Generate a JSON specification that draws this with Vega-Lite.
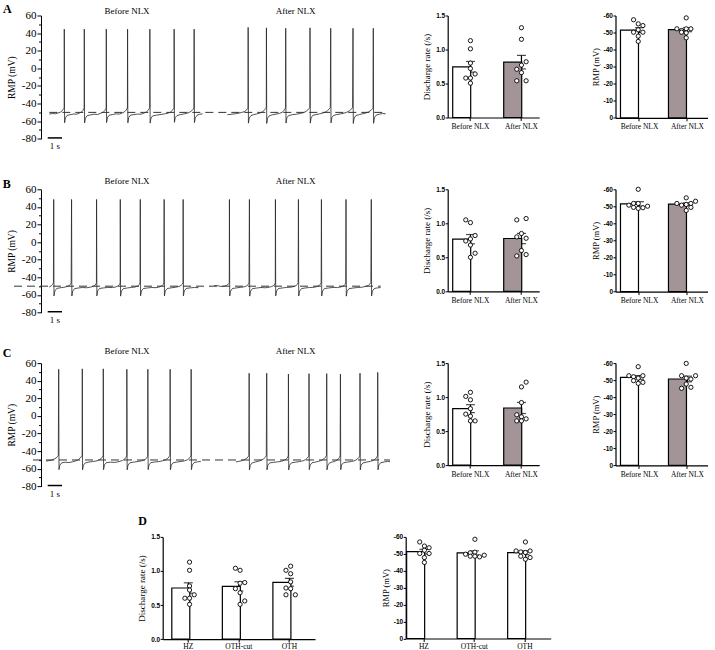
{
  "$schema": "https://vega.github.io/schema/vega-lite/v6.json",
  "background": "white",
  "padding": {"left": 2, "top": 2.5, "right": 2, "bottom": 2},
  "config": {
    "view": {"stroke": null},
    "font": "Liberation Serif",
    "axis": {"domainColor": "black", "tickColor": "black", "labelColor": "black", "titleColor": "black", "grid": false, "titleFontWeight": "normal", "tickWidth": 1}
  },
  "datasets": {
    "traceA": [
      {"seg":"b","t":0.58,"mv":-51.9},{"seg":"b","t":0.8,"mv":-51.3},{"seg":"b","t":1.0,"mv":-51.6},{"seg":"b","t":1.2,"mv":-50.6},{"seg":"b","t":1.37,"mv":-49.6},{"seg":"b","t":1.5,"mv":-47.9},{"seg":"b","t":1.59,"mv":-45.8},{"seg":"b","t":1.62,"mv":-44.2},{"seg":"b","t":1.63,"mv":44.5},{"seg":"b","t":1.65,"mv":-61.8},{"seg":"b","t":1.71,"mv":-56.2},{"seg":"b","t":1.83,"mv":-53.4},{"seg":"b","t":2.05,"mv":-52.6},{"seg":"b","t":2.3,"mv":-51.8},{"seg":"b","t":2.5,"mv":-52.1},{"seg":"b","t":2.7,"mv":-50.7},{"seg":"b","t":2.85,"mv":-49.4},{"seg":"b","t":2.95,"mv":-47.6},{"seg":"b","t":3.0,"mv":-45.5},{"seg":"b","t":3.02,"mv":-44.2},{"seg":"b","t":3.03,"mv":44.5},{"seg":"b","t":3.05,"mv":-62},{"seg":"b","t":3.11,"mv":-56.5},{"seg":"b","t":3.23,"mv":-53.8},{"seg":"b","t":3.45,"mv":-52.9},{"seg":"b","t":3.7,"mv":-52.1},{"seg":"b","t":3.95,"mv":-52.4},{"seg":"b","t":4.15,"mv":-51.2},{"seg":"b","t":4.35,"mv":-49.9},{"seg":"b","t":4.47,"mv":-47.9},{"seg":"b","t":4.54,"mv":-45.6},{"seg":"b","t":4.56,"mv":-44.2},{"seg":"b","t":4.57,"mv":44.5},{"seg":"b","t":4.59,"mv":-61.6},{"seg":"b","t":4.65,"mv":-56},{"seg":"b","t":4.77,"mv":-53.3},{"seg":"b","t":5.0,"mv":-52.4},{"seg":"b","t":5.25,"mv":-51.7},{"seg":"b","t":5.5,"mv":-51.9},{"seg":"b","t":5.7,"mv":-50.6},{"seg":"b","t":5.85,"mv":-49.3},{"seg":"b","t":5.96,"mv":-47.4},{"seg":"b","t":6.03,"mv":-45.3},{"seg":"b","t":6.05,"mv":-44},{"seg":"b","t":6.06,"mv":44.5},{"seg":"b","t":6.08,"mv":-61.9},{"seg":"b","t":6.14,"mv":-55.8},{"seg":"b","t":6.26,"mv":-53.2},{"seg":"b","t":6.5,"mv":-52.5},{"seg":"b","t":6.75,"mv":-51.9},{"seg":"b","t":7.0,"mv":-52.1},{"seg":"b","t":7.2,"mv":-50.8},{"seg":"b","t":7.38,"mv":-49.5},{"seg":"b","t":7.5,"mv":-47.7},{"seg":"b","t":7.58,"mv":-45.6},{"seg":"b","t":7.61,"mv":-44.2},{"seg":"b","t":7.62,"mv":44.5},{"seg":"b","t":7.64,"mv":-62.2},{"seg":"b","t":7.7,"mv":-56.4},{"seg":"b","t":7.82,"mv":-54},{"seg":"b","t":8.1,"mv":-53.1},{"seg":"b","t":8.4,"mv":-52.4},{"seg":"b","t":8.7,"mv":-51.5},{"seg":"b","t":8.9,"mv":-50.9},{"seg":"b","t":9.08,"mv":-49.5},{"seg":"b","t":9.2,"mv":-47.6},{"seg":"b","t":9.28,"mv":-45.5},{"seg":"b","t":9.31,"mv":-44.2},{"seg":"b","t":9.32,"mv":44.5},{"seg":"b","t":9.34,"mv":-61.3},{"seg":"b","t":9.4,"mv":-55.7},{"seg":"b","t":9.52,"mv":-53.6},{"seg":"b","t":9.75,"mv":-52.5},{"seg":"b","t":10.0,"mv":-51.8},{"seg":"b","t":10.2,"mv":-51.1},{"seg":"b","t":10.4,"mv":-49.9},{"seg":"b","t":10.55,"mv":-48.2},{"seg":"b","t":10.65,"mv":-46.4},{"seg":"b","t":10.7,"mv":-44.6},{"seg":"b","t":10.72,"mv":44.5},{"seg":"b","t":10.74,"mv":-61.6},{"seg":"b","t":10.8,"mv":-56.1},{"seg":"b","t":10.92,"mv":-53.3},{"seg":"b","t":11.1,"mv":-52.2},{"seg":"b","t":11.31,"mv":-51.6},
      {"seg":"a","t":13.05,"mv":-52.6},{"seg":"a","t":13.3,"mv":-52.2},{"seg":"a","t":13.55,"mv":-51.7},{"seg":"a","t":13.8,"mv":-51},{"seg":"a","t":14.05,"mv":-50.1},{"seg":"a","t":14.25,"mv":-49},{"seg":"a","t":14.38,"mv":-47.5},{"seg":"a","t":14.46,"mv":-45.6},{"seg":"a","t":14.49,"mv":-44.2},{"seg":"a","t":14.5,"mv":46.5},{"seg":"a","t":14.52,"mv":-62.2},{"seg":"a","t":14.58,"mv":-56.3},{"seg":"a","t":14.7,"mv":-53.6},{"seg":"a","t":14.9,"mv":-52.5},{"seg":"a","t":15.1,"mv":-51.8},{"seg":"a","t":15.3,"mv":-50.9},{"seg":"a","t":15.48,"mv":-49.6},{"seg":"a","t":15.62,"mv":-47.8},{"seg":"a","t":15.72,"mv":-45.8},{"seg":"a","t":15.77,"mv":-44.2},{"seg":"a","t":15.78,"mv":46},{"seg":"a","t":15.8,"mv":-62.6},{"seg":"a","t":15.86,"mv":-56.6},{"seg":"a","t":15.98,"mv":-53.9},{"seg":"a","t":16.2,"mv":-52.7},{"seg":"a","t":16.45,"mv":-52},{"seg":"a","t":16.7,"mv":-51.1},{"seg":"a","t":16.88,"mv":-49.8},{"seg":"a","t":17.0,"mv":-48.2},{"seg":"a","t":17.09,"mv":-46},{"seg":"a","t":17.12,"mv":-44.3},{"seg":"a","t":17.13,"mv":45.5},{"seg":"a","t":17.15,"mv":-62.1},{"seg":"a","t":17.21,"mv":-56.2},{"seg":"a","t":17.33,"mv":-53.6},{"seg":"a","t":17.6,"mv":-52.6},{"seg":"a","t":17.9,"mv":-52},{"seg":"a","t":18.15,"mv":-51.3},{"seg":"a","t":18.38,"mv":-50.2},{"seg":"a","t":18.55,"mv":-48.9},{"seg":"a","t":18.68,"mv":-47.2},{"seg":"a","t":18.78,"mv":-45.4},{"seg":"a","t":18.82,"mv":-44.2},{"seg":"a","t":18.83,"mv":46},{"seg":"a","t":18.85,"mv":-62.2},{"seg":"a","t":18.91,"mv":-56.1},{"seg":"a","t":19.03,"mv":-53.3},{"seg":"a","t":19.25,"mv":-52.5},{"seg":"a","t":19.5,"mv":-51.7},{"seg":"a","t":19.72,"mv":-50.8},{"seg":"a","t":19.9,"mv":-49.6},{"seg":"a","t":20.05,"mv":-48.1},{"seg":"a","t":20.17,"mv":-46.3},{"seg":"a","t":20.25,"mv":-44.4},{"seg":"a","t":20.28,"mv":45.5},{"seg":"a","t":20.3,"mv":-62},{"seg":"a","t":20.36,"mv":-56},{"seg":"a","t":20.48,"mv":-53.5},{"seg":"a","t":20.7,"mv":-52.5},{"seg":"a","t":20.95,"mv":-51.8},{"seg":"a","t":21.2,"mv":-51},{"seg":"a","t":21.42,"mv":-49.7},{"seg":"a","t":21.6,"mv":-48.1},{"seg":"a","t":21.73,"mv":-46.3},{"seg":"a","t":21.81,"mv":-44.4},{"seg":"a","t":21.84,"mv":45.5},{"seg":"a","t":21.86,"mv":-62.6},{"seg":"a","t":21.92,"mv":-56.5},{"seg":"a","t":22.04,"mv":-53.7},{"seg":"a","t":22.28,"mv":-52.5},{"seg":"a","t":22.52,"mv":-51.6},{"seg":"a","t":22.75,"mv":-50.6},{"seg":"a","t":22.95,"mv":-49.3},{"seg":"a","t":23.1,"mv":-47.6},{"seg":"a","t":23.2,"mv":-45.8},{"seg":"a","t":23.24,"mv":-44.3},{"seg":"a","t":23.26,"mv":45.5},{"seg":"a","t":23.28,"mv":-62.4},{"seg":"a","t":23.34,"mv":-56.1},{"seg":"a","t":23.46,"mv":-53.2},{"seg":"a","t":23.7,"mv":-52},{"seg":"a","t":23.92,"mv":-51.3},{"seg":"a","t":24.13,"mv":-51.6}
    ],
    "traceB": [
      {"seg":"b","t":0.58,"mv":-50.8},{"seg":"b","t":0.72,"mv":-49.6},{"seg":"b","t":0.82,"mv":-48},{"seg":"b","t":0.87,"mv":-46},{"seg":"b","t":0.89,"mv":48.5},{"seg":"b","t":0.91,"mv":-61},{"seg":"b","t":0.97,"mv":-55.5},{"seg":"b","t":1.1,"mv":-52.6},{"seg":"b","t":1.35,"mv":-51.8},{"seg":"b","t":1.6,"mv":-51.3},{"seg":"b","t":1.8,"mv":-50.5},{"seg":"b","t":1.95,"mv":-49.6},{"seg":"b","t":2.05,"mv":-48.2},{"seg":"b","t":2.11,"mv":-46.2},{"seg":"b","t":2.14,"mv":48.5},{"seg":"b","t":2.16,"mv":-61.2},{"seg":"b","t":2.22,"mv":-55.6},{"seg":"b","t":2.35,"mv":-52.8},{"seg":"b","t":2.6,"mv":-52.1},{"seg":"b","t":2.9,"mv":-51.5},{"seg":"b","t":3.2,"mv":-51.8},{"seg":"b","t":3.45,"mv":-51.1},{"seg":"b","t":3.65,"mv":-50.3},{"seg":"b","t":3.78,"mv":-49.1},{"seg":"b","t":3.85,"mv":-47.3},{"seg":"b","t":3.88,"mv":-46},{"seg":"b","t":3.89,"mv":48.5},{"seg":"b","t":3.91,"mv":-61},{"seg":"b","t":3.97,"mv":-55.3},{"seg":"b","t":4.1,"mv":-52.6},{"seg":"b","t":4.4,"mv":-51.9},{"seg":"b","t":4.7,"mv":-51.4},{"seg":"b","t":5.0,"mv":-51.6},{"seg":"b","t":5.25,"mv":-50.8},{"seg":"b","t":5.4,"mv":-49.6},{"seg":"b","t":5.5,"mv":-48},{"seg":"b","t":5.54,"mv":-46.2},{"seg":"b","t":5.55,"mv":48.5},{"seg":"b","t":5.57,"mv":-61.3},{"seg":"b","t":5.63,"mv":-55.6},{"seg":"b","t":5.76,"mv":-52.8},{"seg":"b","t":6.05,"mv":-52},{"seg":"b","t":6.35,"mv":-51.4},{"seg":"b","t":6.6,"mv":-50.9},{"seg":"b","t":6.78,"mv":-49.8},{"seg":"b","t":6.88,"mv":-48.2},{"seg":"b","t":6.93,"mv":-46.3},{"seg":"b","t":6.95,"mv":48.5},{"seg":"b","t":6.97,"mv":-61},{"seg":"b","t":7.03,"mv":-55.4},{"seg":"b","t":7.16,"mv":-52.7},{"seg":"b","t":7.45,"mv":-52},{"seg":"b","t":7.75,"mv":-51.5},{"seg":"b","t":8.05,"mv":-51.7},{"seg":"b","t":8.3,"mv":-50.8},{"seg":"b","t":8.47,"mv":-49.6},{"seg":"b","t":8.56,"mv":-48},{"seg":"b","t":8.6,"mv":-46.2},{"seg":"b","t":8.62,"mv":48.5},{"seg":"b","t":8.64,"mv":-61.2},{"seg":"b","t":8.7,"mv":-55.5},{"seg":"b","t":8.83,"mv":-52.7},{"seg":"b","t":9.1,"mv":-51.9},{"seg":"b","t":9.4,"mv":-51.3},{"seg":"b","t":9.65,"mv":-50.4},{"seg":"b","t":9.8,"mv":-49.2},{"seg":"b","t":9.9,"mv":-47.6},{"seg":"b","t":9.94,"mv":-46.1},{"seg":"b","t":9.95,"mv":48.5},{"seg":"b","t":9.97,"mv":-61},{"seg":"b","t":10.03,"mv":-55.4},{"seg":"b","t":10.16,"mv":-52.6},{"seg":"b","t":10.45,"mv":-51.9},{"seg":"b","t":10.75,"mv":-51.5},{"seg":"b","t":11.03,"mv":-51.7},
      {"seg":"a","t":12.12,"mv":-49.5},{"seg":"a","t":12.3,"mv":-49.2},{"seg":"a","t":12.5,"mv":-50},{"seg":"a","t":12.7,"mv":-50.3},{"seg":"a","t":12.9,"mv":-49.8},{"seg":"a","t":13.05,"mv":-48.6},{"seg":"a","t":13.14,"mv":-47},{"seg":"a","t":13.18,"mv":-45.8},{"seg":"a","t":13.19,"mv":48.5},{"seg":"a","t":13.21,"mv":-61.2},{"seg":"a","t":13.27,"mv":-55.6},{"seg":"a","t":13.4,"mv":-52.7},{"seg":"a","t":13.65,"mv":-52},{"seg":"a","t":13.95,"mv":-51.4},{"seg":"a","t":14.2,"mv":-50.8},{"seg":"a","t":14.38,"mv":-49.8},{"seg":"a","t":14.5,"mv":-48.3},{"seg":"a","t":14.56,"mv":-46.3},{"seg":"a","t":14.59,"mv":48.5},{"seg":"a","t":14.61,"mv":-61.3},{"seg":"a","t":14.67,"mv":-55.7},{"seg":"a","t":14.8,"mv":-52.8},{"seg":"a","t":15.1,"mv":-52.1},{"seg":"a","t":15.4,"mv":-51.5},{"seg":"a","t":15.7,"mv":-51.8},{"seg":"a","t":15.95,"mv":-51.2},{"seg":"a","t":16.15,"mv":-50.4},{"seg":"a","t":16.3,"mv":-49.2},{"seg":"a","t":16.37,"mv":-47.5},{"seg":"a","t":16.4,"mv":-46},{"seg":"a","t":16.41,"mv":48.5},{"seg":"a","t":16.43,"mv":-61},{"seg":"a","t":16.49,"mv":-55.4},{"seg":"a","t":16.62,"mv":-52.7},{"seg":"a","t":16.9,"mv":-52},{"seg":"a","t":17.2,"mv":-51.4},{"seg":"a","t":17.5,"mv":-51.1},{"seg":"a","t":17.7,"mv":-50.4},{"seg":"a","t":17.85,"mv":-49.4},{"seg":"a","t":17.95,"mv":-47.8},{"seg":"a","t":18.0,"mv":-46.2},{"seg":"a","t":18.02,"mv":48.5},{"seg":"a","t":18.04,"mv":-61.2},{"seg":"a","t":18.1,"mv":-55.6},{"seg":"a","t":18.23,"mv":-52.8},{"seg":"a","t":18.5,"mv":-52},{"seg":"a","t":18.8,"mv":-51.5},{"seg":"a","t":19.1,"mv":-51.3},{"seg":"a","t":19.3,"mv":-50.5},{"seg":"a","t":19.47,"mv":-49.3},{"seg":"a","t":19.56,"mv":-47.7},{"seg":"a","t":19.61,"mv":-46.1},{"seg":"a","t":19.63,"mv":48.5},{"seg":"a","t":19.65,"mv":-61.1},{"seg":"a","t":19.71,"mv":-55.5},{"seg":"a","t":19.84,"mv":-52.7},{"seg":"a","t":20.15,"mv":-52},{"seg":"a","t":20.45,"mv":-51.4},{"seg":"a","t":20.75,"mv":-51.6},{"seg":"a","t":21.0,"mv":-50.8},{"seg":"a","t":21.18,"mv":-49.7},{"seg":"a","t":21.28,"mv":-48},{"seg":"a","t":21.33,"mv":-46.2},{"seg":"a","t":21.35,"mv":48.5},{"seg":"a","t":21.37,"mv":-61.3},{"seg":"a","t":21.43,"mv":-55.6},{"seg":"a","t":21.56,"mv":-52.8},{"seg":"a","t":21.85,"mv":-52.1},{"seg":"a","t":22.15,"mv":-51.5},{"seg":"a","t":22.45,"mv":-51.2},{"seg":"a","t":22.7,"mv":-50.4},{"seg":"a","t":22.9,"mv":-49.3},{"seg":"a","t":23.02,"mv":-47.6},{"seg":"a","t":23.09,"mv":-46},{"seg":"a","t":23.12,"mv":48.5},{"seg":"a","t":23.14,"mv":-61.1},{"seg":"a","t":23.2,"mv":-55.5},{"seg":"a","t":23.33,"mv":-52.7},{"seg":"a","t":23.55,"mv":-51.9},{"seg":"a","t":23.78,"mv":-51.6}
    ],
    "traceC": [
      {"seg":"b","t":0.35,"mv":-51.2},{"seg":"b","t":0.55,"mv":-50.8},{"seg":"b","t":0.75,"mv":-50.1},{"seg":"b","t":0.92,"mv":-49},{"seg":"b","t":1.05,"mv":-47.8},{"seg":"b","t":1.15,"mv":-46.3},{"seg":"b","t":1.21,"mv":-44.8},{"seg":"b","t":1.24,"mv":53},{"seg":"b","t":1.26,"mv":-61},{"seg":"b","t":1.32,"mv":-55.8},{"seg":"b","t":1.45,"mv":-53.2},{"seg":"b","t":1.7,"mv":-52.6},{"seg":"b","t":1.95,"mv":-52.9},{"seg":"b","t":2.2,"mv":-52.1},{"seg":"b","t":2.45,"mv":-51},{"seg":"b","t":2.62,"mv":-49.6},{"seg":"b","t":2.75,"mv":-47.8},{"seg":"b","t":2.84,"mv":-45.8},{"seg":"b","t":2.88,"mv":-44.6},{"seg":"b","t":2.89,"mv":53.5},{"seg":"b","t":2.91,"mv":-61.2},{"seg":"b","t":2.97,"mv":-55.9},{"seg":"b","t":3.1,"mv":-53.3},{"seg":"b","t":3.35,"mv":-52.4},{"seg":"b","t":3.6,"mv":-51.8},{"seg":"b","t":3.85,"mv":-51.2},{"seg":"b","t":4.05,"mv":-50.2},{"seg":"b","t":4.2,"mv":-48.6},{"seg":"b","t":4.3,"mv":-46.6},{"seg":"b","t":4.35,"mv":-44.8},{"seg":"b","t":4.36,"mv":53.5},{"seg":"b","t":4.38,"mv":-61},{"seg":"b","t":4.44,"mv":-55.6},{"seg":"b","t":4.57,"mv":-53.1},{"seg":"b","t":4.85,"mv":-52.5},{"seg":"b","t":5.15,"mv":-52.8},{"seg":"b","t":5.45,"mv":-51.9},{"seg":"b","t":5.7,"mv":-50.6},{"seg":"b","t":5.85,"mv":-49.1},{"seg":"b","t":5.95,"mv":-47},{"seg":"b","t":6.0,"mv":-44.8},{"seg":"b","t":6.01,"mv":53},{"seg":"b","t":6.03,"mv":-61.2},{"seg":"b","t":6.09,"mv":-55.8},{"seg":"b","t":6.22,"mv":-53.2},{"seg":"b","t":6.5,"mv":-52.4},{"seg":"b","t":6.8,"mv":-51.7},{"seg":"b","t":7.05,"mv":-51},{"seg":"b","t":7.25,"mv":-49.8},{"seg":"b","t":7.38,"mv":-48.1},{"seg":"b","t":7.45,"mv":-46.2},{"seg":"b","t":7.47,"mv":-44.8},{"seg":"b","t":7.48,"mv":53},{"seg":"b","t":7.5,"mv":-61},{"seg":"b","t":7.56,"mv":-55.6},{"seg":"b","t":7.69,"mv":-53},{"seg":"b","t":7.95,"mv":-52.3},{"seg":"b","t":8.25,"mv":-51.8},{"seg":"b","t":8.5,"mv":-51},{"seg":"b","t":8.7,"mv":-49.9},{"seg":"b","t":8.87,"mv":-48.2},{"seg":"b","t":8.97,"mv":-46.3},{"seg":"b","t":9.02,"mv":-44.8},{"seg":"b","t":9.04,"mv":53},{"seg":"b","t":9.06,"mv":-61.2},{"seg":"b","t":9.12,"mv":-55.8},{"seg":"b","t":9.25,"mv":-53.2},{"seg":"b","t":9.5,"mv":-52.4},{"seg":"b","t":9.8,"mv":-51.7},{"seg":"b","t":10.05,"mv":-51},{"seg":"b","t":10.25,"mv":-49.8},{"seg":"b","t":10.38,"mv":-48.1},{"seg":"b","t":10.46,"mv":-46.2},{"seg":"b","t":10.5,"mv":-44.8},{"seg":"b","t":10.51,"mv":53},{"seg":"b","t":10.53,"mv":-61},{"seg":"b","t":10.59,"mv":-55.6},{"seg":"b","t":10.72,"mv":-53},{"seg":"b","t":10.95,"mv":-52.1},{"seg":"b","t":11.19,"mv":-51.6},
      {"seg":"a","t":13.64,"mv":-52.2},{"seg":"a","t":13.85,"mv":-51.6},{"seg":"a","t":14.05,"mv":-50.8},{"seg":"a","t":14.25,"mv":-49.6},{"seg":"a","t":14.4,"mv":-48.2},{"seg":"a","t":14.5,"mv":-46.4},{"seg":"a","t":14.55,"mv":-44.9},{"seg":"a","t":14.57,"mv":48.5},{"seg":"a","t":14.59,"mv":-61.3},{"seg":"a","t":14.65,"mv":-55.9},{"seg":"a","t":14.78,"mv":-53.3},{"seg":"a","t":15.0,"mv":-52.3},{"seg":"a","t":15.2,"mv":-51.5},{"seg":"a","t":15.42,"mv":-50.3},{"seg":"a","t":15.58,"mv":-48.8},{"seg":"a","t":15.7,"mv":-46.9},{"seg":"a","t":15.77,"mv":-45.2},{"seg":"a","t":15.8,"mv":48.5},{"seg":"a","t":15.82,"mv":-61.2},{"seg":"a","t":15.88,"mv":-55.8},{"seg":"a","t":16.01,"mv":-53.3},{"seg":"a","t":16.3,"mv":-52.6},{"seg":"a","t":16.6,"mv":-52.1},{"seg":"a","t":16.85,"mv":-51.4},{"seg":"a","t":17.05,"mv":-50.2},{"seg":"a","t":17.2,"mv":-48.5},{"seg":"a","t":17.28,"mv":-46.6},{"seg":"a","t":17.31,"mv":-45},{"seg":"a","t":17.32,"mv":47.5},{"seg":"a","t":17.34,"mv":-61.3},{"seg":"a","t":17.4,"mv":-55.9},{"seg":"a","t":17.53,"mv":-53.3},{"seg":"a","t":17.8,"mv":-52.5},{"seg":"a","t":18.1,"mv":-51.8},{"seg":"a","t":18.35,"mv":-50.9},{"seg":"a","t":18.52,"mv":-49.6},{"seg":"a","t":18.64,"mv":-47.9},{"seg":"a","t":18.72,"mv":-46.1},{"seg":"a","t":18.75,"mv":-45},{"seg":"a","t":18.76,"mv":48},{"seg":"a","t":18.78,"mv":-61},{"seg":"a","t":18.84,"mv":-55.7},{"seg":"a","t":18.97,"mv":-53.2},{"seg":"a","t":19.2,"mv":-52.4},{"seg":"a","t":19.45,"mv":-51.4},{"seg":"a","t":19.65,"mv":-50.3},{"seg":"a","t":19.8,"mv":-48.8},{"seg":"a","t":19.92,"mv":-46.8},{"seg":"a","t":19.98,"mv":-45.1},{"seg":"a","t":20.0,"mv":48},{"seg":"a","t":20.02,"mv":-61.2},{"seg":"a","t":20.08,"mv":-55.8},{"seg":"a","t":20.21,"mv":-53.2},{"seg":"a","t":20.42,"mv":-52.2},{"seg":"a","t":20.62,"mv":-51.1},{"seg":"a","t":20.78,"mv":-49.5},{"seg":"a","t":20.88,"mv":-47.4},{"seg":"a","t":20.94,"mv":-45.3},{"seg":"a","t":20.96,"mv":47.5},{"seg":"a","t":20.98,"mv":-61.2},{"seg":"a","t":21.04,"mv":-55.7},{"seg":"a","t":21.17,"mv":-53.2},{"seg":"a","t":21.45,"mv":-52.4},{"seg":"a","t":21.75,"mv":-51.7},{"seg":"a","t":21.98,"mv":-50.6},{"seg":"a","t":22.14,"mv":-49.1},{"seg":"a","t":22.25,"mv":-47.2},{"seg":"a","t":22.31,"mv":-45.2},{"seg":"a","t":22.33,"mv":48.5},{"seg":"a","t":22.35,"mv":-61.3},{"seg":"a","t":22.41,"mv":-55.8},{"seg":"a","t":22.54,"mv":-53.3},{"seg":"a","t":22.8,"mv":-52.4},{"seg":"a","t":23.05,"mv":-51.6},{"seg":"a","t":23.28,"mv":-50.4},{"seg":"a","t":23.42,"mv":-48.8},{"seg":"a","t":23.51,"mv":-46.8},{"seg":"a","t":23.56,"mv":-45},{"seg":"a","t":23.57,"mv":49.5},{"seg":"a","t":23.59,"mv":-61.2},{"seg":"a","t":23.65,"mv":-55.7},{"seg":"a","t":23.78,"mv":-53.1},{"seg":"a","t":24.05,"mv":-52.2},{"seg":"a","t":24.25,"mv":-51.6},{"seg":"a","t":24.43,"mv":-51.9}
    ],
    "rateA": [
      {"group":"Before NLX","value":1.13,"lane":0},{"group":"Before NLX","value":1.01,"lane":0},{"group":"Before NLX","value":0.8,"lane":0},{"group":"Before NLX","value":0.72,"lane":0},{"group":"Before NLX","value":0.64,"lane":1},{"group":"Before NLX","value":0.58,"lane":-1},{"group":"Before NLX","value":0.58,"lane":0},{"group":"Before NLX","value":0.505,"lane":0},
      {"group":"After NLX","value":1.32,"lane":0},{"group":"After NLX","value":1.15,"lane":0},{"group":"After NLX","value":0.82,"lane":1},{"group":"After NLX","value":0.77,"lane":0},{"group":"After NLX","value":0.71,"lane":-1},{"group":"After NLX","value":0.66,"lane":0},{"group":"After NLX","value":0.54,"lane":-1},{"group":"After NLX","value":0.54,"lane":1}
    ],
    "rmpA": [
      {"group":"Before NLX","value":-57.5,"lane":-1},{"group":"Before NLX","value":-55.1,"lane":0},{"group":"Before NLX","value":-54.1,"lane":1},{"group":"Before NLX","value":-51.6,"lane":0},{"group":"Before NLX","value":-50.2,"lane":-1},{"group":"Before NLX","value":-50.2,"lane":1},{"group":"Before NLX","value":-47.9,"lane":0},{"group":"Before NLX","value":-44.8,"lane":0},
      {"group":"After NLX","value":-58.6,"lane":0},{"group":"After NLX","value":-52.2,"lane":-2},{"group":"After NLX","value":-51.2,"lane":-1},{"group":"After NLX","value":-52.2,"lane":0},{"group":"After NLX","value":-52.2,"lane":1},{"group":"After NLX","value":-50.2,"lane":-1},{"group":"After NLX","value":-49.8,"lane":0},{"group":"After NLX","value":-46.9,"lane":0}
    ],
    "rateB": [
      {"group":"Before NLX","value":1.05,"lane":-1},{"group":"Before NLX","value":1.01,"lane":0},{"group":"Before NLX","value":0.82,"lane":1},{"group":"Before NLX","value":0.77,"lane":0},{"group":"Before NLX","value":0.74,"lane":-1},{"group":"Before NLX","value":0.68,"lane":0},{"group":"Before NLX","value":0.56,"lane":1},{"group":"Before NLX","value":0.5,"lane":0},
      {"group":"After NLX","value":1.05,"lane":-1},{"group":"After NLX","value":1.07,"lane":1},{"group":"After NLX","value":0.85,"lane":0},{"group":"After NLX","value":0.8,"lane":-1},{"group":"After NLX","value":0.78,"lane":1},{"group":"After NLX","value":0.6,"lane":0},{"group":"After NLX","value":0.52,"lane":-1},{"group":"After NLX","value":0.54,"lane":1}
    ],
    "rmpB": [
      {"group":"Before NLX","value":-60,"lane":0},{"group":"Before NLX","value":-50.7,"lane":-2},{"group":"Before NLX","value":-51.7,"lane":-1},{"group":"Before NLX","value":-51.7,"lane":0},{"group":"Before NLX","value":-49.4,"lane":-1},{"group":"Before NLX","value":-48.8,"lane":0},{"group":"Before NLX","value":-49.2,"lane":1},{"group":"Before NLX","value":-50.1,"lane":2},
      {"group":"After NLX","value":-55,"lane":0},{"group":"After NLX","value":-53,"lane":2},{"group":"After NLX","value":-51.7,"lane":-2},{"group":"After NLX","value":-50.7,"lane":-1},{"group":"After NLX","value":-51.1,"lane":0},{"group":"After NLX","value":-51.7,"lane":1},{"group":"After NLX","value":-47.6,"lane":0},{"group":"After NLX","value":-49.4,"lane":1}
    ],
    "rateC": [
      {"group":"Before NLX","value":1.07,"lane":0},{"group":"Before NLX","value":1.01,"lane":-1},{"group":"Before NLX","value":0.96,"lane":0},{"group":"Before NLX","value":0.83,"lane":0},{"group":"Before NLX","value":0.75,"lane":-1},{"group":"Before NLX","value":0.72,"lane":0},{"group":"Before NLX","value":0.65,"lane":0},{"group":"Before NLX","value":0.65,"lane":1},
      {"group":"After NLX","value":1.22,"lane":1},{"group":"After NLX","value":1.15,"lane":0},{"group":"After NLX","value":0.92,"lane":0},{"group":"After NLX","value":0.74,"lane":-1},{"group":"After NLX","value":0.71,"lane":0},{"group":"After NLX","value":0.68,"lane":1},{"group":"After NLX","value":0.65,"lane":-1},{"group":"After NLX","value":0.65,"lane":0}
    ],
    "rmpC": [
      {"group":"Before NLX","value":-57.9,"lane":0},{"group":"Before NLX","value":-52.6,"lane":-2},{"group":"Before NLX","value":-52,"lane":-1},{"group":"Before NLX","value":-51.2,"lane":0},{"group":"Before NLX","value":-52.6,"lane":1},{"group":"Before NLX","value":-49.7,"lane":-1},{"group":"Before NLX","value":-48.7,"lane":1},{"group":"Before NLX","value":-48.1,"lane":0},
      {"group":"After NLX","value":-59.8,"lane":0},{"group":"After NLX","value":-52.6,"lane":-1},{"group":"After NLX","value":-51.2,"lane":0},{"group":"After NLX","value":-50.6,"lane":1},{"group":"After NLX","value":-52.6,"lane":2},{"group":"After NLX","value":-47.7,"lane":0},{"group":"After NLX","value":-45.2,"lane":-1},{"group":"After NLX","value":-45.8,"lane":1}
    ],
    "rateD": [
      {"group":"HZ","value":1.13,"lane":0},{"group":"HZ","value":1.01,"lane":0},{"group":"HZ","value":0.78,"lane":0},{"group":"HZ","value":0.72,"lane":0},{"group":"HZ","value":0.6,"lane":-1},{"group":"HZ","value":0.6,"lane":0},{"group":"HZ","value":0.65,"lane":1},{"group":"HZ","value":0.51,"lane":0},
      {"group":"OTH-cut","value":1.04,"lane":-1},{"group":"OTH-cut","value":1.01,"lane":0},{"group":"OTH-cut","value":0.82,"lane":0},{"group":"OTH-cut","value":0.83,"lane":1},{"group":"OTH-cut","value":0.74,"lane":-1},{"group":"OTH-cut","value":0.68,"lane":0},{"group":"OTH-cut","value":0.56,"lane":1},{"group":"OTH-cut","value":0.51,"lane":0},
      {"group":"OTH","value":1.07,"lane":0},{"group":"OTH","value":1.01,"lane":-1},{"group":"OTH","value":0.96,"lane":0},{"group":"OTH","value":0.84,"lane":0},{"group":"OTH","value":0.75,"lane":-1},{"group":"OTH","value":0.74,"lane":0},{"group":"OTH","value":0.65,"lane":-1},{"group":"OTH","value":0.65,"lane":1}
    ],
    "rmpD": [
      {"group":"HZ","value":-57,"lane":-1},{"group":"HZ","value":-54.6,"lane":0},{"group":"HZ","value":-53.6,"lane":1},{"group":"HZ","value":-52.1,"lane":0},{"group":"HZ","value":-50.2,"lane":-1},{"group":"HZ","value":-50.2,"lane":1},{"group":"HZ","value":-47.8,"lane":0},{"group":"HZ","value":-44.9,"lane":0},
      {"group":"OTH-cut","value":-58.6,"lane":0},{"group":"OTH-cut","value":-49.8,"lane":-2},{"group":"OTH-cut","value":-50.6,"lane":-1},{"group":"OTH-cut","value":-51,"lane":0},{"group":"OTH-cut","value":-48.6,"lane":-1},{"group":"OTH-cut","value":-48.6,"lane":0},{"group":"OTH-cut","value":-48.2,"lane":1},{"group":"OTH-cut","value":-49.2,"lane":2},
      {"group":"OTH","value":-57,"lane":0},{"group":"OTH","value":-51.7,"lane":-2},{"group":"OTH","value":-51.1,"lane":-1},{"group":"OTH","value":-50.8,"lane":0},{"group":"OTH","value":-51.7,"lane":1},{"group":"OTH","value":-48.6,"lane":-1},{"group":"OTH","value":-46.8,"lane":0},{"group":"OTH","value":-47.8,"lane":1}
    ]
  },
  "vconcat": [
    {
      "hconcat": [
        {
          "width": 350, "height": 123.3,
          "encoding": {
            "x": {"field": "t", "type": "quantitative", "scale": {"domain": [0, 24.5], "nice": false, "zero": false}, "axis": null},
            "y": {"field": "mv", "type": "quantitative", "scale": {"domain": [-80, 60], "nice": false, "zero": false},
                  "axis": {"title": "RMP (mV)", "values": [-80,-70,-60,-50,-40,-30,-20,-10,0,10,20,30,40,50,60], "labelExpr": "datum.value % 20 == 0 ? (datum.value < 0 ? '-' + abs(datum.value) : '' + datum.value) : ''", "labelFont": "Liberation Serif", "labelFontSize": 11, "labelPadding": 1, "labelOverlap": false, "labelFlush": false, "tickSize": {"condition": {"test": "datum.value % 20 != 0", "value": 2.5}, "value": 4}, "titleFont": "Liberation Serif", "titleFontSize": 9.5, "titlePadding": 5, "domainWidth": 1}}
          },
          "layer": [
            {"data": {"name": "traceA"}, "mark": {"type": "line", "color": "#262626", "strokeWidth": 0.8},
             "encoding": {"detail": {"field": "seg"}}},
            {"data": {"values": [{"t": 0.58, "t_end": 24.13, "mv": -50}]},
             "mark": {"type": "rule", "strokeDash": [8, 5], "color": "#333333", "strokeWidth": 1},
             "encoding": {"x2": {"field": "t_end"}}},
            {"data": {"values": [{"t": 0.47, "t_end": 1.47, "mv": -79}]}, "mark": {"type": "rule", "color": "black", "strokeWidth": 1.5},
             "encoding": {"x2": {"field": "t_end"}}},
            {"data": {"values": [{"t": 0.97, "mv": -88.5, "label": "1 s"}, {"t": 6.02, "mv": 65.3, "label": "Before NLX"}, {"t": 17.83, "mv": 65.3, "label": "After NLX"}]},
             "mark": {"type": "text", "font": "Liberation Serif", "fontSize": 9, "baseline": "middle", "color": "black"},
             "encoding": {"text": {"field": "label"}}},
            {"data": {"values": [{"t": -2.66, "mv": 63, "label": "A"}]},
             "mark": {"type": "text", "font": "Liberation Serif", "fontWeight": "bold", "fontSize": 12, "align": "left", "baseline": "alphabetic", "color": "black"},
             "encoding": {"text": {"field": "label"}}}
          ]
        },
        {
          "hconcat": [
            {
              "width": 91.5, "height": 102,
              "data": {"name": "rateA"},
              "encoding": {"x": {"field": "group", "type": "nominal", "sort": ["Before NLX", "After NLX"], "scale": {"paddingInner": 0.304, "paddingOuter": 0.049, "align": 1},
                                 "axis": {"title": null, "labelAngle": 0, "labelFont": "Liberation Serif", "labelFontSize": 7.5, "labelPadding": 2, "tickSize": 3, "domainWidth": 1.2}}},
              "layer": [
                {"mark": {"type": "errorbar", "extent": "stderr", "color": "black", "thickness": 1.2, "ticks": {"size": 9, "thickness": 1.2, "color": "black"}},
                 "encoding": {"y": {"field": "value", "type": "quantitative", "scale": {"domain": [0, 1.5], "nice": false},
                   "axis": {"title": "Discharge rate (/s)", "values": [0, 0.5, 1, 1.5], "format": ".1f", "labelFont": "Liberation Sans", "labelFontWeight": "bold", "labelFontSize": 6.5, "labelPadding": 0.5, "tickSize": 2.5, "labelOverlap": false, "labelFlush": false, "titleFont": "Liberation Serif", "titleFontSize": 9, "titlePadding": 4, "domainWidth": 1.2}}}},
                {"mark": {"type": "bar", "stroke": "black", "strokeWidth": 1.2},
                 "encoding": {"y": {"aggregate": "mean", "field": "value", "type": "quantitative",
                   "axis": {"title": "Discharge rate (/s)", "values": [0, 0.5, 1, 1.5], "format": ".1f", "labelFont": "Liberation Sans", "labelFontWeight": "bold", "labelFontSize": 6.5, "labelPadding": 0.5, "tickSize": 2.5, "labelOverlap": false, "labelFlush": false, "titleFont": "Liberation Serif", "titleFontSize": 9, "titlePadding": 4, "domainWidth": 1.2}},
                              "fill": {"field": "group", "type": "nominal", "scale": {"domain": ["Before NLX", "After NLX"], "range": ["#ffffff", "#a39597"]}, "legend": null}}},
                {"mark": {"type": "point", "shape": "circle", "filled": true, "fill": "white", "stroke": "black", "strokeWidth": 0.9, "size": 18, "opacity": 1},
                 "encoding": {"y": {"field": "value", "type": "quantitative",
                   "axis": {"title": "Discharge rate (/s)", "values": [0, 0.5, 1, 1.5], "format": ".1f", "labelFont": "Liberation Sans", "labelFontWeight": "bold", "labelFontSize": 6.5, "labelPadding": 0.5, "tickSize": 2.5, "labelOverlap": false, "labelFlush": false, "titleFont": "Liberation Serif", "titleFontSize": 9, "titlePadding": 4, "domainWidth": 1.2}},
                              "xOffset": {"field": "lane", "type": "quantitative", "scale": {"domain": [-3.5, 3.5]}}}}
              ]
            },
            {
              "width": 92, "height": 102.3,
              "data": {"name": "rmpA"},
              "encoding": {"x": {"field": "group", "type": "nominal", "sort": ["Before NLX", "After NLX"], "scale": {"paddingInner": 0.208, "paddingOuter": 0.0625, "align": 0.83},
                                 "axis": {"title": null, "labelAngle": 0, "labelFont": "Liberation Serif", "labelFontSize": 7.5, "labelPadding": 2, "tickSize": 3, "domainWidth": 1.2}}},
              "layer": [
                {"mark": {"type": "errorbar", "extent": "stderr", "color": "black", "thickness": 1.2, "ticks": {"size": 9, "thickness": 1.2, "color": "black"}},
                 "encoding": {"y": {"field": "value", "type": "quantitative", "scale": {"domain": [0, -60], "nice": false, "zero": false},
                   "axis": {"title": "RMP (mV)", "values": [-60, -50, -40, -30, -20, -10, 0], "labelExpr": "datum.value < 0 ? '-' + abs(datum.value) : '0'", "labelFont": "Liberation Sans", "labelFontWeight": "bold", "labelFontSize": 6.5, "labelPadding": 0.5, "tickSize": 2.5, "labelOverlap": false, "labelFlush": false, "titleFont": "Liberation Serif", "titleFontSize": 8.5, "titlePadding": 3, "domainWidth": 1.2}}}},
                {"mark": {"type": "bar", "stroke": "black", "strokeWidth": 1.2},
                 "encoding": {"y": {"aggregate": "mean", "field": "value", "type": "quantitative",
                   "axis": {"title": "RMP (mV)", "values": [-60, -50, -40, -30, -20, -10, 0], "labelExpr": "datum.value < 0 ? '-' + abs(datum.value) : '0'", "labelFont": "Liberation Sans", "labelFontWeight": "bold", "labelFontSize": 6.5, "labelPadding": 0.5, "tickSize": 2.5, "labelOverlap": false, "labelFlush": false, "titleFont": "Liberation Serif", "titleFontSize": 8.5, "titlePadding": 3, "domainWidth": 1.2}},
                              "fill": {"field": "group", "type": "nominal", "scale": {"domain": ["Before NLX", "After NLX"], "range": ["#ffffff", "#a39597"]}, "legend": null}}},
                {"mark": {"type": "point", "shape": "circle", "filled": true, "fill": "white", "stroke": "black", "strokeWidth": 0.9, "size": 18, "opacity": 1},
                 "encoding": {"y": {"field": "value", "type": "quantitative",
                   "axis": {"title": "RMP (mV)", "values": [-60, -50, -40, -30, -20, -10, 0], "labelExpr": "datum.value < 0 ? '-' + abs(datum.value) : '0'", "labelFont": "Liberation Sans", "labelFontWeight": "bold", "labelFontSize": 6.5, "labelPadding": 0.5, "tickSize": 2.5, "labelOverlap": false, "labelFlush": false, "titleFont": "Liberation Serif", "titleFontSize": 8.5, "titlePadding": 3, "domainWidth": 1.2}},
                              "xOffset": {"field": "lane", "type": "quantitative", "scale": {"domain": [-3.8, 3.8]}}}}
              ]
            }
          ],
          "spacing": 75.8,
          "bounds": "flush"
        }
      ],
      "spacing": 56.7,
      "bounds": "flush"
    },
    {
      "hconcat": [
        {
          "width": 350, "height": 123.3,
          "encoding": {
            "x": {"field": "t", "type": "quantitative", "scale": {"domain": [0, 24.5], "nice": false, "zero": false}, "axis": null},
            "y": {"field": "mv", "type": "quantitative", "scale": {"domain": [-80, 60], "nice": false, "zero": false},
                  "axis": {"title": "RMP (mV)", "values": [-80,-70,-60,-50,-40,-30,-20,-10,0,10,20,30,40,50,60], "labelExpr": "datum.value % 20 == 0 ? (datum.value < 0 ? '-' + abs(datum.value) : '' + datum.value) : ''", "labelFont": "Liberation Serif", "labelFontSize": 11, "labelPadding": 1, "labelOverlap": false, "labelFlush": false, "tickSize": {"condition": {"test": "datum.value % 20 != 0", "value": 2.5}, "value": 4}, "titleFont": "Liberation Serif", "titleFontSize": 9.5, "titlePadding": 5, "domainWidth": 1}}
          },
          "layer": [
            {"data": {"name": "traceB"}, "mark": {"type": "line", "color": "#262626", "strokeWidth": 0.8},
             "encoding": {"detail": {"field": "seg"}}},
            {"data": {"values": [{"t": -1.89, "t_end": 23.78, "mv": -50}]},
             "mark": {"type": "rule", "strokeDash": [8, 5], "color": "#333333", "strokeWidth": 1},
             "encoding": {"x2": {"field": "t_end"}}},
            {"data": {"values": [{"t": 0.47, "t_end": 1.47, "mv": -79}]}, "mark": {"type": "rule", "color": "black", "strokeWidth": 1.5},
             "encoding": {"x2": {"field": "t_end"}}},
            {"data": {"values": [{"t": 0.97, "mv": -88.5, "label": "1 s"}, {"t": 6.02, "mv": 69.4, "label": "Before NLX"}, {"t": 17.83, "mv": 69.4, "label": "After NLX"}]},
             "mark": {"type": "text", "font": "Liberation Serif", "fontSize": 9, "baseline": "middle", "color": "black"},
             "encoding": {"text": {"field": "label"}}},
            {"data": {"values": [{"t": -2.68, "mv": 62, "label": "B"}]},
             "mark": {"type": "text", "font": "Liberation Serif", "fontWeight": "bold", "fontSize": 12, "align": "left", "baseline": "alphabetic", "color": "black"},
             "encoding": {"text": {"field": "label"}}}
          ]
        },
        {
          "hconcat": [
            {
              "width": 91.5, "height": 102,
              "data": {"name": "rateB"},
              "encoding": {"x": {"field": "group", "type": "nominal", "sort": ["Before NLX", "After NLX"], "scale": {"paddingInner": 0.304, "paddingOuter": 0.049, "align": 1},
                                 "axis": {"title": null, "labelAngle": 0, "labelFont": "Liberation Serif", "labelFontSize": 7.5, "labelPadding": 2, "tickSize": 3, "domainWidth": 1.2}}},
              "layer": [
                {"mark": {"type": "errorbar", "extent": "stderr", "color": "black", "thickness": 1.2, "ticks": {"size": 9, "thickness": 1.2, "color": "black"}},
                 "encoding": {"y": {"field": "value", "type": "quantitative", "scale": {"domain": [0, 1.5], "nice": false},
                   "axis": {"title": "Discharge rate (/s)", "values": [0, 0.5, 1, 1.5], "format": ".1f", "labelFont": "Liberation Sans", "labelFontWeight": "bold", "labelFontSize": 6.5, "labelPadding": 0.5, "tickSize": 2.5, "labelOverlap": false, "labelFlush": false, "titleFont": "Liberation Serif", "titleFontSize": 9, "titlePadding": 4, "domainWidth": 1.2}}}},
                {"mark": {"type": "bar", "stroke": "black", "strokeWidth": 1.2},
                 "encoding": {"y": {"aggregate": "mean", "field": "value", "type": "quantitative",
                   "axis": {"title": "Discharge rate (/s)", "values": [0, 0.5, 1, 1.5], "format": ".1f", "labelFont": "Liberation Sans", "labelFontWeight": "bold", "labelFontSize": 6.5, "labelPadding": 0.5, "tickSize": 2.5, "labelOverlap": false, "labelFlush": false, "titleFont": "Liberation Serif", "titleFontSize": 9, "titlePadding": 4, "domainWidth": 1.2}},
                              "fill": {"field": "group", "type": "nominal", "scale": {"domain": ["Before NLX", "After NLX"], "range": ["#ffffff", "#a39597"]}, "legend": null}}},
                {"mark": {"type": "point", "shape": "circle", "filled": true, "fill": "white", "stroke": "black", "strokeWidth": 0.9, "size": 18, "opacity": 1},
                 "encoding": {"y": {"field": "value", "type": "quantitative",
                   "axis": {"title": "Discharge rate (/s)", "values": [0, 0.5, 1, 1.5], "format": ".1f", "labelFont": "Liberation Sans", "labelFontWeight": "bold", "labelFontSize": 6.5, "labelPadding": 0.5, "tickSize": 2.5, "labelOverlap": false, "labelFlush": false, "titleFont": "Liberation Serif", "titleFontSize": 9, "titlePadding": 4, "domainWidth": 1.2}},
                              "xOffset": {"field": "lane", "type": "quantitative", "scale": {"domain": [-3.5, 3.5]}}}}
              ]
            },
            {
              "width": 92, "height": 102.3,
              "data": {"name": "rmpB"},
              "encoding": {"x": {"field": "group", "type": "nominal", "sort": ["Before NLX", "After NLX"], "scale": {"paddingInner": 0.208, "paddingOuter": 0.0625, "align": 0.83},
                                 "axis": {"title": null, "labelAngle": 0, "labelFont": "Liberation Serif", "labelFontSize": 7.5, "labelPadding": 2, "tickSize": 3, "domainWidth": 1.2}}},
              "layer": [
                {"mark": {"type": "errorbar", "extent": "stderr", "color": "black", "thickness": 1.2, "ticks": {"size": 9, "thickness": 1.2, "color": "black"}},
                 "encoding": {"y": {"field": "value", "type": "quantitative", "scale": {"domain": [0, -60], "nice": false, "zero": false},
                   "axis": {"title": "RMP (mV)", "values": [-60, -50, -40, -30, -20, -10, 0], "labelExpr": "datum.value < 0 ? '-' + abs(datum.value) : '0'", "labelFont": "Liberation Sans", "labelFontWeight": "bold", "labelFontSize": 6.5, "labelPadding": 0.5, "tickSize": 2.5, "labelOverlap": false, "labelFlush": false, "titleFont": "Liberation Serif", "titleFontSize": 8.5, "titlePadding": 3, "domainWidth": 1.2}}}},
                {"mark": {"type": "bar", "stroke": "black", "strokeWidth": 1.2},
                 "encoding": {"y": {"aggregate": "mean", "field": "value", "type": "quantitative",
                   "axis": {"title": "RMP (mV)", "values": [-60, -50, -40, -30, -20, -10, 0], "labelExpr": "datum.value < 0 ? '-' + abs(datum.value) : '0'", "labelFont": "Liberation Sans", "labelFontWeight": "bold", "labelFontSize": 6.5, "labelPadding": 0.5, "tickSize": 2.5, "labelOverlap": false, "labelFlush": false, "titleFont": "Liberation Serif", "titleFontSize": 8.5, "titlePadding": 3, "domainWidth": 1.2}},
                              "fill": {"field": "group", "type": "nominal", "scale": {"domain": ["Before NLX", "After NLX"], "range": ["#ffffff", "#a39597"]}, "legend": null}}},
                {"mark": {"type": "point", "shape": "circle", "filled": true, "fill": "white", "stroke": "black", "strokeWidth": 0.9, "size": 18, "opacity": 1},
                 "encoding": {"y": {"field": "value", "type": "quantitative",
                   "axis": {"title": "RMP (mV)", "values": [-60, -50, -40, -30, -20, -10, 0], "labelExpr": "datum.value < 0 ? '-' + abs(datum.value) : '0'", "labelFont": "Liberation Sans", "labelFontWeight": "bold", "labelFontSize": 6.5, "labelPadding": 0.5, "tickSize": 2.5, "labelOverlap": false, "labelFlush": false, "titleFont": "Liberation Serif", "titleFontSize": 8.5, "titlePadding": 3, "domainWidth": 1.2}},
                              "xOffset": {"field": "lane", "type": "quantitative", "scale": {"domain": [-3.8, 3.8]}}}}
              ]
            }
          ],
          "spacing": 75.8,
          "bounds": "flush"
        }
      ],
      "spacing": 56.7,
      "bounds": "flush"
    },
    {
      "hconcat": [
        {
          "width": 350, "height": 123.3,
          "encoding": {
            "x": {"field": "t", "type": "quantitative", "scale": {"domain": [0, 24.5], "nice": false, "zero": false}, "axis": null},
            "y": {"field": "mv", "type": "quantitative", "scale": {"domain": [-80, 60], "nice": false, "zero": false},
                  "axis": {"title": "RMP (mV)", "values": [-80,-70,-60,-50,-40,-30,-20,-10,0,10,20,30,40,50,60], "labelExpr": "datum.value % 20 == 0 ? (datum.value < 0 ? '-' + abs(datum.value) : '' + datum.value) : ''", "labelFont": "Liberation Serif", "labelFontSize": 11, "labelPadding": 1, "labelOverlap": false, "labelFlush": false, "tickSize": {"condition": {"test": "datum.value % 20 != 0", "value": 2.5}, "value": 4}, "titleFont": "Liberation Serif", "titleFontSize": 9.5, "titlePadding": 5, "domainWidth": 1}}
          },
          "layer": [
            {"data": {"name": "traceC"}, "mark": {"type": "line", "color": "#262626", "strokeWidth": 0.8},
             "encoding": {"detail": {"field": "seg"}}},
            {"data": {"values": [{"t": -0.56, "t_end": 24.43, "mv": -50}]},
             "mark": {"type": "rule", "strokeDash": [8, 5], "color": "#333333", "strokeWidth": 1},
             "encoding": {"x2": {"field": "t_end"}}},
            {"data": {"values": [{"t": 0.47, "t_end": 1.47, "mv": -79}]}, "mark": {"type": "rule", "color": "black", "strokeWidth": 1.5},
             "encoding": {"x2": {"field": "t_end"}}},
            {"data": {"values": [{"t": 0.97, "mv": -88.5, "label": "1 s"}, {"t": 6.02, "mv": 74, "label": "Before NLX"}, {"t": 17.83, "mv": 74, "label": "After NLX"}]},
             "mark": {"type": "text", "font": "Liberation Serif", "fontSize": 9, "baseline": "middle", "color": "black"},
             "encoding": {"text": {"field": "label"}}},
            {"data": {"values": [{"t": -2.68, "mv": 66.5, "label": "C"}]},
             "mark": {"type": "text", "font": "Liberation Serif", "fontWeight": "bold", "fontSize": 12, "align": "left", "baseline": "alphabetic", "color": "black"},
             "encoding": {"text": {"field": "label"}}}
          ]
        },
        {
          "hconcat": [
            {
              "width": 91.5, "height": 102,
              "data": {"name": "rateC"},
              "encoding": {"x": {"field": "group", "type": "nominal", "sort": ["Before NLX", "After NLX"], "scale": {"paddingInner": 0.304, "paddingOuter": 0.049, "align": 1},
                                 "axis": {"title": null, "labelAngle": 0, "labelFont": "Liberation Serif", "labelFontSize": 7.5, "labelPadding": 2, "tickSize": 3, "domainWidth": 1.2}}},
              "layer": [
                {"mark": {"type": "errorbar", "extent": "stderr", "color": "black", "thickness": 1.2, "ticks": {"size": 9, "thickness": 1.2, "color": "black"}},
                 "encoding": {"y": {"field": "value", "type": "quantitative", "scale": {"domain": [0, 1.5], "nice": false},
                   "axis": {"title": "Discharge rate (/s)", "values": [0, 0.5, 1, 1.5], "format": ".1f", "labelFont": "Liberation Sans", "labelFontWeight": "bold", "labelFontSize": 6.5, "labelPadding": 0.5, "tickSize": 2.5, "labelOverlap": false, "labelFlush": false, "titleFont": "Liberation Serif", "titleFontSize": 9, "titlePadding": 4, "domainWidth": 1.2}}}},
                {"mark": {"type": "bar", "stroke": "black", "strokeWidth": 1.2},
                 "encoding": {"y": {"aggregate": "mean", "field": "value", "type": "quantitative",
                   "axis": {"title": "Discharge rate (/s)", "values": [0, 0.5, 1, 1.5], "format": ".1f", "labelFont": "Liberation Sans", "labelFontWeight": "bold", "labelFontSize": 6.5, "labelPadding": 0.5, "tickSize": 2.5, "labelOverlap": false, "labelFlush": false, "titleFont": "Liberation Serif", "titleFontSize": 9, "titlePadding": 4, "domainWidth": 1.2}},
                              "fill": {"field": "group", "type": "nominal", "scale": {"domain": ["Before NLX", "After NLX"], "range": ["#ffffff", "#a39597"]}, "legend": null}}},
                {"mark": {"type": "point", "shape": "circle", "filled": true, "fill": "white", "stroke": "black", "strokeWidth": 0.9, "size": 18, "opacity": 1},
                 "encoding": {"y": {"field": "value", "type": "quantitative",
                   "axis": {"title": "Discharge rate (/s)", "values": [0, 0.5, 1, 1.5], "format": ".1f", "labelFont": "Liberation Sans", "labelFontWeight": "bold", "labelFontSize": 6.5, "labelPadding": 0.5, "tickSize": 2.5, "labelOverlap": false, "labelFlush": false, "titleFont": "Liberation Serif", "titleFontSize": 9, "titlePadding": 4, "domainWidth": 1.2}},
                              "xOffset": {"field": "lane", "type": "quantitative", "scale": {"domain": [-3.5, 3.5]}}}}
              ]
            },
            {
              "width": 92, "height": 102.3,
              "data": {"name": "rmpC"},
              "encoding": {"x": {"field": "group", "type": "nominal", "sort": ["Before NLX", "After NLX"], "scale": {"paddingInner": 0.208, "paddingOuter": 0.0625, "align": 0.83},
                                 "axis": {"title": null, "labelAngle": 0, "labelFont": "Liberation Serif", "labelFontSize": 7.5, "labelPadding": 2, "tickSize": 3, "domainWidth": 1.2}}},
              "layer": [
                {"mark": {"type": "errorbar", "extent": "stderr", "color": "black", "thickness": 1.2, "ticks": {"size": 9, "thickness": 1.2, "color": "black"}},
                 "encoding": {"y": {"field": "value", "type": "quantitative", "scale": {"domain": [0, -60], "nice": false, "zero": false},
                   "axis": {"title": "RMP (mV)", "values": [-60, -50, -40, -30, -20, -10, 0], "labelExpr": "datum.value < 0 ? '-' + abs(datum.value) : '0'", "labelFont": "Liberation Sans", "labelFontWeight": "bold", "labelFontSize": 6.5, "labelPadding": 0.5, "tickSize": 2.5, "labelOverlap": false, "labelFlush": false, "titleFont": "Liberation Serif", "titleFontSize": 8.5, "titlePadding": 3, "domainWidth": 1.2}}}},
                {"mark": {"type": "bar", "stroke": "black", "strokeWidth": 1.2},
                 "encoding": {"y": {"aggregate": "mean", "field": "value", "type": "quantitative",
                   "axis": {"title": "RMP (mV)", "values": [-60, -50, -40, -30, -20, -10, 0], "labelExpr": "datum.value < 0 ? '-' + abs(datum.value) : '0'", "labelFont": "Liberation Sans", "labelFontWeight": "bold", "labelFontSize": 6.5, "labelPadding": 0.5, "tickSize": 2.5, "labelOverlap": false, "labelFlush": false, "titleFont": "Liberation Serif", "titleFontSize": 8.5, "titlePadding": 3, "domainWidth": 1.2}},
                              "fill": {"field": "group", "type": "nominal", "scale": {"domain": ["Before NLX", "After NLX"], "range": ["#ffffff", "#a39597"]}, "legend": null}}},
                {"mark": {"type": "point", "shape": "circle", "filled": true, "fill": "white", "stroke": "black", "strokeWidth": 0.9, "size": 18, "opacity": 1},
                 "encoding": {"y": {"field": "value", "type": "quantitative",
                   "axis": {"title": "RMP (mV)", "values": [-60, -50, -40, -30, -20, -10, 0], "labelExpr": "datum.value < 0 ? '-' + abs(datum.value) : '0'", "labelFont": "Liberation Sans", "labelFontWeight": "bold", "labelFontSize": 6.5, "labelPadding": 0.5, "tickSize": 2.5, "labelOverlap": false, "labelFlush": false, "titleFont": "Liberation Serif", "titleFontSize": 8.5, "titlePadding": 3, "domainWidth": 1.2}},
                              "xOffset": {"field": "lane", "type": "quantitative", "scale": {"domain": [-3.8, 3.8]}}}}
              ]
            }
          ],
          "spacing": 75.8,
          "bounds": "flush"
        }
      ],
      "spacing": 56.7,
      "bounds": "flush"
    },
    {
      "hconcat": [
        {
          "width": 106, "height": 10,
          "data": {"values": [{"label": "D"}]},
          "mark": {"type": "text", "font": "Liberation Serif", "fontWeight": "bold", "fontSize": 12, "align": "right", "baseline": "alphabetic", "color": "black"},
          "encoding": {"text": {"field": "label"}, "x": {"value": "width"}, "y": {"value": -12}}
        },
        {
          "hconcat": [
            {
              "width": 152.3, "height": 102.2,
              "data": {"name": "rateD"},
              "encoding": {"x": {"field": "group", "type": "nominal", "sort": ["HZ", "OTH-cut", "OTH"], "scale": {"paddingInner": 0.347, "paddingOuter": 0.18},
                                 "axis": {"title": null, "labelAngle": 0, "labelFont": "Liberation Serif", "labelFontSize": 7.5, "labelPadding": 0.5, "tickSize": 3, "domainWidth": 1.2}}},
              "layer": [
                {"mark": {"type": "errorbar", "extent": "stderr", "color": "black", "thickness": 1.2, "ticks": {"size": 9, "thickness": 1.2, "color": "black"}},
                 "encoding": {"y": {"field": "value", "type": "quantitative", "scale": {"domain": [0, 1.5], "nice": false},
                   "axis": {"title": "Discharge rate (/s)", "values": [0, 0.5, 1, 1.5], "format": ".1f", "labelFont": "Liberation Sans", "labelFontWeight": "bold", "labelFontSize": 6.5, "labelPadding": 0.5, "tickSize": 2.5, "labelOverlap": false, "labelFlush": false, "titleFont": "Liberation Serif", "titleFontSize": 9, "titlePadding": 4, "domainWidth": 1.2}}}},
                {"mark": {"type": "bar", "stroke": "black", "strokeWidth": 1.2, "fill": "white"},
                 "encoding": {"y": {"aggregate": "mean", "field": "value", "type": "quantitative",
                   "axis": {"title": "Discharge rate (/s)", "values": [0, 0.5, 1, 1.5], "format": ".1f", "labelFont": "Liberation Sans", "labelFontWeight": "bold", "labelFontSize": 6.5, "labelPadding": 0.5, "tickSize": 2.5, "labelOverlap": false, "labelFlush": false, "titleFont": "Liberation Serif", "titleFontSize": 9, "titlePadding": 4, "domainWidth": 1.2}}}},
                {"mark": {"type": "point", "shape": "circle", "filled": true, "fill": "white", "stroke": "black", "strokeWidth": 0.9, "size": 18, "opacity": 1},
                 "encoding": {"y": {"field": "value", "type": "quantitative",
                   "axis": {"title": "Discharge rate (/s)", "values": [0, 0.5, 1, 1.5], "format": ".1f", "labelFont": "Liberation Sans", "labelFontWeight": "bold", "labelFontSize": 6.5, "labelPadding": 0.5, "tickSize": 2.5, "labelOverlap": false, "labelFlush": false, "titleFont": "Liberation Serif", "titleFontSize": 9, "titlePadding": 4, "domainWidth": 1.2}},
                              "xOffset": {"field": "lane", "type": "quantitative", "scale": {"domain": [-3.3, 3.3]}}}}
              ]
            },
            {
              "width": 145, "height": 101.6,
              "data": {"name": "rmpD"},
              "encoding": {"x": {"field": "group", "type": "nominal", "sort": ["HZ", "OTH-cut", "OTH"], "scale": {"paddingInner": 0.317, "paddingOuter": 0.094, "align": 0.1},
                                 "axis": {"title": null, "labelAngle": 0, "labelFont": "Liberation Serif", "labelFontSize": 7.5, "labelPadding": 0.5, "tickSize": 3, "domainWidth": 1.2}}},
              "layer": [
                {"mark": {"type": "errorbar", "extent": "stderr", "color": "black", "thickness": 1.2, "ticks": {"size": 9, "thickness": 1.2, "color": "black"}},
                 "encoding": {"y": {"field": "value", "type": "quantitative", "scale": {"domain": [0, -60], "nice": false, "zero": false},
                   "axis": {"title": "RMP (mV)", "values": [-60, -50, -40, -30, -20, -10, 0], "labelExpr": "datum.value < 0 ? '-' + abs(datum.value) : '0'", "labelFont": "Liberation Sans", "labelFontWeight": "bold", "labelFontSize": 6.5, "labelPadding": 0.5, "tickSize": 2.5, "labelOverlap": false, "labelFlush": false, "titleFont": "Liberation Serif", "titleFontSize": 8.5, "titlePadding": 3, "domainWidth": 1.2}}}},
                {"mark": {"type": "bar", "stroke": "black", "strokeWidth": 1.2, "fill": "white"},
                 "encoding": {"y": {"aggregate": "mean", "field": "value", "type": "quantitative",
                   "axis": {"title": "RMP (mV)", "values": [-60, -50, -40, -30, -20, -10, 0], "labelExpr": "datum.value < 0 ? '-' + abs(datum.value) : '0'", "labelFont": "Liberation Sans", "labelFontWeight": "bold", "labelFontSize": 6.5, "labelPadding": 0.5, "tickSize": 2.5, "labelOverlap": false, "labelFlush": false, "titleFont": "Liberation Serif", "titleFontSize": 8.5, "titlePadding": 3, "domainWidth": 1.2}}}},
                {"mark": {"type": "point", "shape": "circle", "filled": true, "fill": "white", "stroke": "black", "strokeWidth": 0.9, "size": 18, "opacity": 1},
                 "encoding": {"y": {"field": "value", "type": "quantitative",
                   "axis": {"title": "RMP (mV)", "values": [-60, -50, -40, -30, -20, -10, 0], "labelExpr": "datum.value < 0 ? '-' + abs(datum.value) : '0'", "labelFont": "Liberation Sans", "labelFontWeight": "bold", "labelFontSize": 6.5, "labelPadding": 0.5, "tickSize": 2.5, "labelOverlap": false, "labelFlush": false, "titleFont": "Liberation Serif", "titleFontSize": 8.5, "titlePadding": 3, "domainWidth": 1.2}},
                              "xOffset": {"field": "lane", "type": "quantitative", "scale": {"domain": [-3.45, 3.45]}}}}
              ]
            }
          ],
          "spacing": 90,
          "bounds": "flush"
        }
      ],
      "spacing": 15.7,
      "bounds": "flush"
    }
  ],
  "spacing": 173.8,
  "bounds": "flush"
}
